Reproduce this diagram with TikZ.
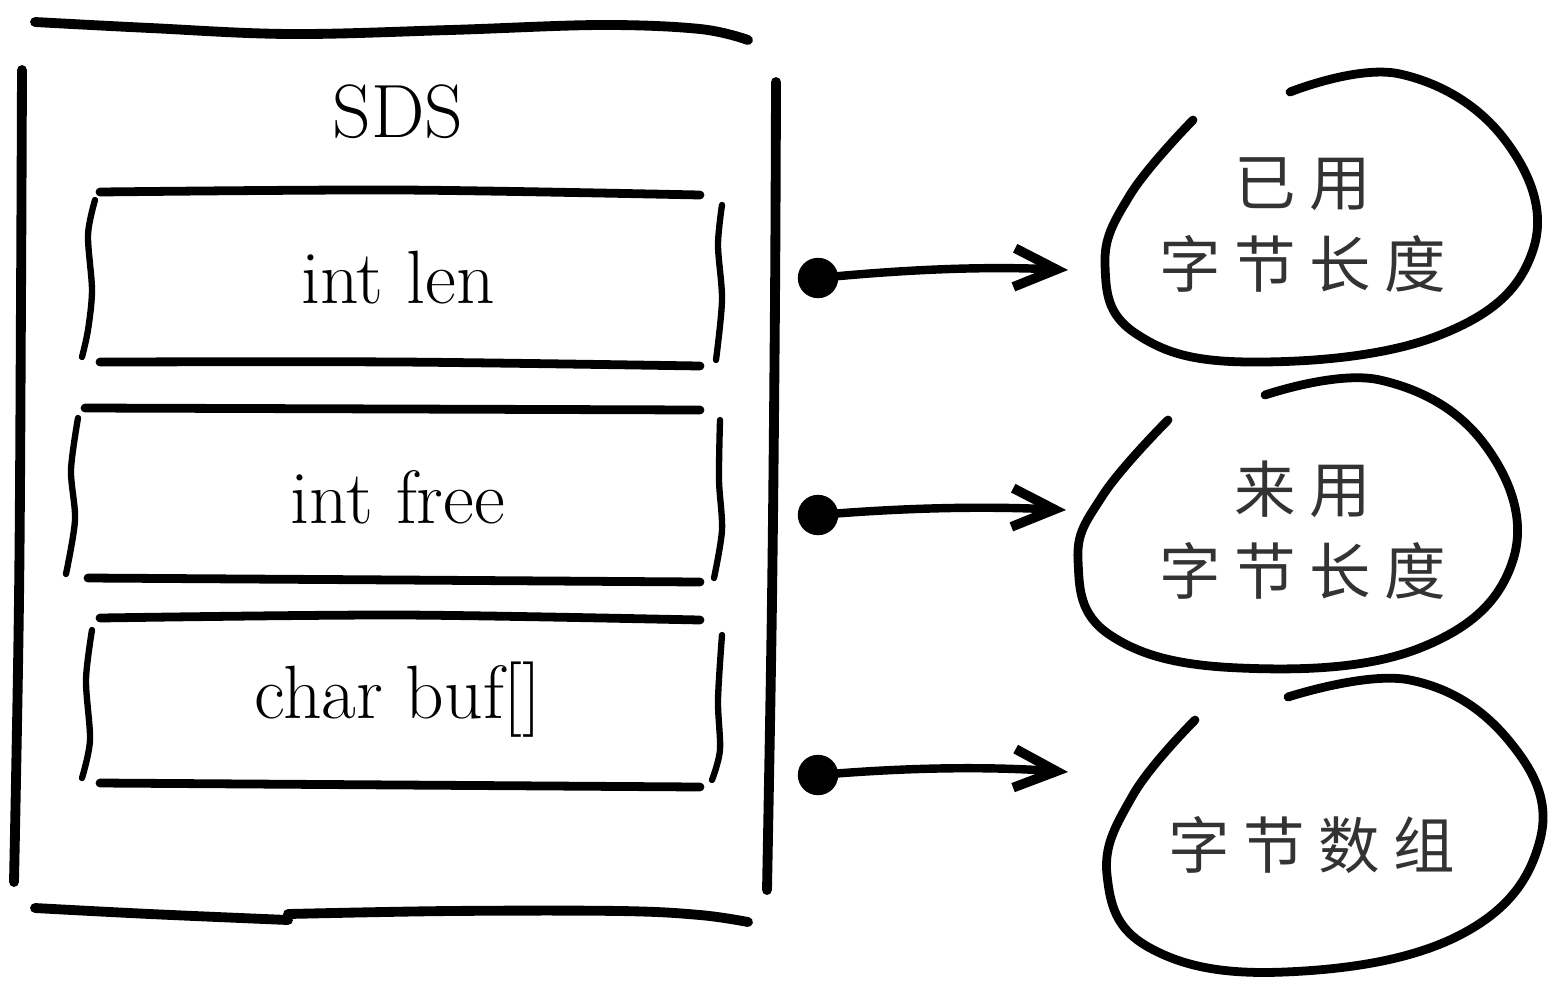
\documentclass[tikz,border=0pt]{standalone}
\usepackage{fontspec}
\newfontfamily\cjk[LetterSpace=22]{Noto Sans CJK SC}
\usetikzlibrary{arrows.meta}
\begin{document}
\begin{tikzpicture}[x=0.02cm,y=-0.02cm,
  hand/.style={line width=5.6pt, line cap=round, line join=round},
  boxline/.style={line width=5pt, line cap=round, line join=round},
  bracket/.style={line width=3.6pt, line cap=round, line join=round},
  blob/.style={line width=5pt, line cap=round, line join=round},
  lbl/.style={font=\fontsize{43}{46}\selectfont, inner sep=0pt},
  cjklbl/.style={font=\cjk\fontsize{35}{47}\selectfont, align=center, text=black!80, inner sep=0pt},
  dotnode/.style={circle, fill=black, minimum size=23pt, inner sep=0pt},
  ptr/.style={line width=4.8pt, line cap=round, -{Straight Barb[length=24pt,width=22pt,line width=5.5pt]}}]
\useasboundingbox (0,0) rectangle (1558,988);

% outer SDS box
\draw[hand] plot[smooth, tension=0.6] coordinates {(35,22) (150,28) (290,34) (450,30) (600,25) (700,29) (748,40)};
\draw[hand] plot[smooth, tension=0.6] coordinates {(22,70) (21,300) (19,600) (14,882)};
\draw[hand] plot[smooth, tension=0.6] coordinates {(776,82) (775,300) (772,600) (767,890)};
\draw[hand] plot[smooth, tension=0.6] coordinates {(35,908) (150,914) (288,920)};
\draw[hand] plot[smooth, tension=0.6] coordinates {(288,914) (450,911) (620,911) (700,915) (748,922)};

\node[lbl] (title) at (398,112) {SDS};

% field 1
\draw[boxline] plot[smooth] coordinates {(100,192) (400,190) (700,195)};
\draw[boxline] plot[smooth] coordinates {(100,362) (400,362) (700,366)};
\draw[bracket] plot[smooth] coordinates {(95,200) (88,235) (92,290) (88,330) (82,357)};
\draw[bracket] plot[smooth] coordinates {(722,205) (718,245) (722,300) (716,360)};
\node[lbl] (f1) at (398,278) {int len};

% field 2
\draw[boxline] plot[smooth] coordinates {(85,408) (400,409) (700,410)};
\draw[boxline] plot[smooth] coordinates {(88,578) (400,580) (700,582)};
\draw[bracket] plot[smooth] coordinates {(78,418) (71,470) (75,520) (66,574)};
\draw[bracket] plot[smooth] coordinates {(720,420) (719,480) (722,530) (714,578)};
\node[lbl] (f2) at (398,497) {int free};

% field 3
\draw[boxline] plot[smooth] coordinates {(100,618) (400,615) (700,620)};
\draw[boxline] plot[smooth] coordinates {(100,783) (400,785) (700,787)};
\draw[bracket] plot[smooth] coordinates {(92,630) (86,680) (90,740) (82,778)};
\draw[bracket] plot[smooth] coordinates {(722,635) (718,700) (720,750) (712,780)};
\node[lbl] (f3) at (398,700) {char buf[]};

% blobs
\draw[blob] plot[smooth, tension=0.7] coordinates {(1193,120) (1130,195) (1105,265) (1135,333) (1250,362) (1440,335) (1533,250) (1505,140) (1400,74) (1290,92)};
\node[cjklbl] (b1) at (1303,225) {已用\\字节长度};

\draw[blob] plot[smooth, tension=0.7] coordinates {(1168,420) (1103,495) (1078,560) (1110,635) (1240,668) (1420,648) (1513,560) (1485,445) (1380,380) (1265,395)};
\node[cjklbl] (b2) at (1303,530) {来用\\字节长度};

\draw[blob] plot[smooth, tension=0.7] coordinates {(1195,720) (1133,795) (1107,875) (1150,948) (1285,972) (1460,935) (1540,840) (1510,742) (1410,680) (1288,697)};
\node[cjklbl] (b3) at (1312,845) {字节数组};

% pointers
\node[dotnode] (d1) at (818,278) {};
\node[dotnode] (d2) at (818,515) {};
\node[dotnode] (d3) at (818,775) {};
\coordinate (t1) at (1068,270);
\coordinate (t2) at (1066,510);
\coordinate (t3) at (1068,772);
\draw[ptr] (d1.center) .. controls (900,270) and (980,266) .. (t1);
\draw[ptr] (d2.center) .. controls (900,508) and (980,506) .. (t2);
\draw[ptr] (d3.center) .. controls (900,768) and (980,766) .. (t3);
\end{tikzpicture}
\end{document}
